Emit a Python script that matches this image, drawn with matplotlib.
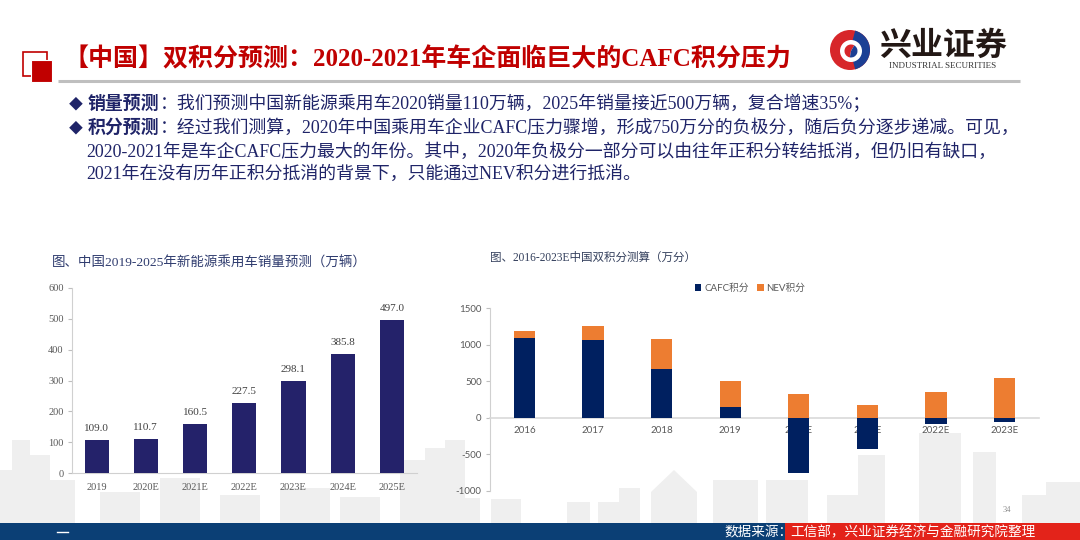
import matplotlib
matplotlib.use("Agg")
import matplotlib.pyplot as plt
from matplotlib.patches import Rectangle, Wedge, Circle, Polygon

plt.rcParams["axes.unicode_minus"] = False

W, H = 1080, 540
SERIF_CJK = ["Liberation Serif", "Noto Sans CJK SC", "DejaVu Sans"]
SANS_CJK = ["Lato", "Noto Sans CJK SC", "DejaVu Sans"]

# ---------------------------------------------------------------------------
# data
# ---------------------------------------------------------------------------
sales_years = ["2019", "2020E", "2021E", "2022E", "2023E", "2024E", "2025E"]
sales_values = [109.0, 110.7, 160.5, 227.5, 298.1, 385.8, 497.0]

credit_years = ["2016", "2017", "2018", "2019", "2020E", "2021E", "2022E", "2023E"]
cafc_credits = [1088, 1064, 671, 142, -758, -420, -78, -55]
nev_credits = [104, 192, 407, 360, 320, 174, 356, 548]

title = "【中国】双积分预测：2020-2021年车企面临巨大的CAFC积分压力"
bullets = [
    ("销量预测", "：我们预测中国新能源乘用车2020销量110万辆，2025年销量接近500万辆，复合增速35%；"),
    ("积分预测", "：经过我们测算，2020年中国乘用车企业CAFC压力骤增，形成750万分的负极分，随后负分逐步递减。可见，"),
]
body_more = [
    "2020-2021年是车企CAFC压力最大的年份。其中，2020年负极分一部分可以由往年正积分转结抵消，但仍旧有缺口，",
    "2021年在没有历年正积分抵消的背景下，只能通过NEV积分进行抵消。",
]
left_title = "图、中国2019-2025年新能源乘用车销量预测（万辆）"
right_title = "图、2016-2023E中国双积分测算（万分）"
source_label = "数据来源："
source_text = "工信部，兴业证券经济与金融研究院整理"

# skyline decoration behind the charts: (x0, x1, top) in pixels
skyline = [
    (0, 12, 470), (12, 30, 440), (30, 50, 455), (50, 75, 480),
    (100, 140, 492), (160, 200, 478), (220, 260, 495), (280, 330, 488),
    (340, 380, 497), (400, 425, 460), (425, 445, 448), (445, 465, 440),
    (465, 480, 498), (491, 521, 499), (567, 590, 502), (598, 619, 502),
    (619, 640, 488), (713, 758, 480), (766, 808, 480), (827, 858, 495),
    (858, 885, 455), (919, 961, 433), (973, 996, 452), (1022, 1046, 495),
    (1046, 1080, 482),
]

NAVY_TXT = "#1F2468"
RED = "#C00000"

fig = plt.figure(figsize=(10.8, 5.4), dpi=100)
fig.patch.set_facecolor("white")

bg = fig.add_axes([0, 0, 1, 1], zorder=0)
bg.set_xlim(0, W)
bg.set_ylim(H, 0)
bg.axis("off")

for x0, x1, top in skyline:
    bg.add_patch(Rectangle((x0, top), x1 - x0, 523 - top, color="#EFEFEF", lw=0))
bg.add_patch(Polygon([(651, 523), (651, 492), (674, 470), (697, 492), (697, 523)],
                     closed=True, color="#EFEFEF", lw=0))

# header decorations
bg.add_patch(Rectangle((22.7, 51.7), 24, 24.3, fill=False, edgecolor=RED, lw=1.2))
bg.add_patch(Rectangle((31, 60), 21.3, 21.7, facecolor=RED, edgecolor="white", lw=0.8))
bg.plot([58, 1020], [81, 81], color="#BFBFBF", lw=2.2, solid_capstyle="butt")
bg.text(64, 59, title, color=RED, fontsize=18, fontweight="bold",
        family=SERIF_CJK, va="center", ha="left")

# logo
cx, cy = 850, 50
bg.add_patch(Circle((cx, cy), 20, color="#D7262A", lw=0))
bg.add_patch(Wedge((cx, cy), 20, -75, 75, color="#1C3F94", lw=0))
bg.add_patch(Circle((cx + 1, cy + 1), 11, color="white", lw=0))
bg.add_patch(Wedge((cx + 1, cy + 1), 6.5, 100, 300, color="#D7262A", lw=0))
bg.add_patch(Wedge((cx + 1, cy + 1), 6.5, -60, 100, color="#1C3F94", lw=0))
bg.text(943, 45, "兴业证券", fontsize=23, fontweight="bold", color="#231815",
        family=SANS_CJK, ha="center", va="center")
bg.text(943, 66, "INDUSTRIAL SECURITIES", fontsize=6.5, color="#333333",
        family="Liberation Serif", ha="center", va="center")

# body text
renderer = fig.canvas.get_renderer()
body_fs = 12.9
line_y = [104, 128, 152, 174]
for (lab, rest), y in zip(bullets, line_y[:2]):
    bg.text(76, y, "◆", color=NAVY_TXT, fontsize=10, family=SANS_CJK,
            ha="center", va="center")
    t = bg.text(88, y, lab, color=NAVY_TXT, fontsize=body_fs, fontweight="bold",
                family=SERIF_CJK, ha="left", va="center")
    w = t.get_window_extent(renderer).width
    bg.text(88 + w, y, rest, color=NAVY_TXT, fontsize=body_fs,
            family=SERIF_CJK, ha="left", va="center")
for s, y in zip(body_more, line_y[2:]):
    bg.text(86, y, s, color=NAVY_TXT, fontsize=body_fs, family=SERIF_CJK,
            ha="left", va="center")

# chart titles
bg.text(52, 263, left_title, color="#2E3B6E", fontsize=9.7, family=SERIF_CJK,
        ha="left", va="center")
bg.text(490, 258, right_title, color="#333F5C", fontsize=8.3, family=SERIF_CJK,
        ha="left", va="center")

# footer
bg.add_patch(Rectangle((0, 523), W, 17, color="#0B3F75", lw=0))
bg.add_patch(Rectangle((785, 523), W - 785, 17, color="#E3231A", lw=0))
bg.plot([57, 68], [532, 532], color="white", lw=1)
bg.text(724, 532, source_label, color="white", fontsize=9.8, family=SANS_CJK,
        ha="left", va="center")
bg.text(790, 532, source_text, color="white", fontsize=9.8, family=SANS_CJK,
        ha="left", va="center")
bg.text(1007, 510, "34", color="#8C8C8C", fontsize=6, family="Liberation Serif",
        ha="center", va="center")

# ---------------------------------------------------------------------------
# left chart: NEV sales forecast
# ---------------------------------------------------------------------------
ax1 = fig.add_axes([72 / W, 1 - 473.3 / H, (416.5 - 72) / W, (473.3 - 287.7) / H],
                   zorder=2)
ax1.patch.set_alpha(0)
xs = range(len(sales_years))
ax1.bar(xs, sales_values, width=0.49, color="#24226A", zorder=3)
for i, v in zip(xs, sales_values):
    ax1.annotate(f"{v:.1f}", (i, v), xytext=(0, 5), textcoords="offset points",
                 ha="center", va="bottom", fontsize=8, color="#404040",
                 family="Liberation Serif")
ax1.set_xlim(-0.5, len(sales_years) - 0.5)
ax1.set_ylim(0, 600)
ax1.set_yticks(range(0, 601, 100))
ax1.set_xticks(list(xs))
ax1.set_xticklabels(sales_years)
for sp in ("top", "right"):
    ax1.spines[sp].set_visible(False)
for sp in ("left", "bottom"):
    ax1.spines[sp].set_color("#D0D0D0")
    ax1.spines[sp].set_linewidth(0.8)
ax1.tick_params(axis="y", length=3, color="#BFBFBF", labelsize=7.5,
                labelcolor="#595959", pad=3)
ax1.tick_params(axis="x", length=0, labelsize=7.5, labelcolor="#595959", pad=7)
for lbl in ax1.get_xticklabels() + ax1.get_yticklabels():
    lbl.set_family("Liberation Serif")

# ---------------------------------------------------------------------------
# right chart: CAFC / NEV credits
# ---------------------------------------------------------------------------
ax2 = fig.add_axes([490 / W, 1 - 491 / H, (1039 - 490) / W, (491 - 308) / H],
                   zorder=2)
ax2.patch.set_alpha(0)
xs2 = range(len(credit_years))
nev_bottom = [max(c, 0) for c in cafc_credits]
ax2.bar(xs2, cafc_credits, width=0.31, color="#002060", label="CAFC积分", zorder=3)
ax2.bar(xs2, nev_credits, width=0.31, bottom=nev_bottom, color="#ED7D31",
        label="NEV积分", zorder=3)
ax2.set_xlim(-0.5, len(credit_years) - 0.5)
ax2.set_ylim(-1000, 1500)
ax2.set_yticks(range(-1000, 1501, 500))
ax2.set_xticks(list(xs2))
ax2.set_xticklabels(credit_years)
ax2.spines["bottom"].set_position(("data", 0))
for sp in ("top", "right"):
    ax2.spines[sp].set_visible(False)
ax2.spines["left"].set_color("#D0D0D0")
ax2.spines["bottom"].set_color("#D9D9D9")
ax2.spines["bottom"].set_linewidth(1.2)
ax2.tick_params(axis="y", length=3, color="#BFBFBF", labelsize=7,
                labelcolor="#595959", pad=3)
ax2.tick_params(axis="x", length=0, labelsize=7, labelcolor="#595959", pad=6)
for lbl in ax2.get_xticklabels() + ax2.get_yticklabels():
    lbl.set_family("Lato")

handles, labels = ax2.get_legend_handles_labels()
leg = fig.legend(handles, labels, loc="center", bbox_to_anchor=(750 / W, 1 - 288 / H),
                 ncol=2, frameon=False, fontsize=7, handlelength=0.7,
                 handleheight=0.7, columnspacing=0.8, handletextpad=0.3)
for t in leg.get_texts():
    t.set_family(SANS_CJK)
    t.set_color("#595959")

fig.savefig("out.png", dpi=100, facecolor="white")
